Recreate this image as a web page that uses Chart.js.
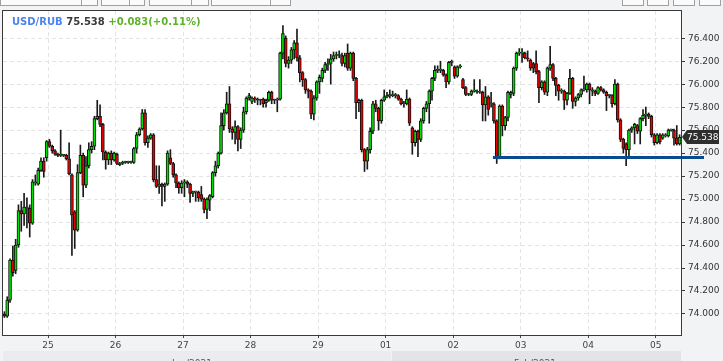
<!DOCTYPE html>
<html>
<head>
<meta charset="utf-8">
<script src="https://cdn.jsdelivr.net/npm/chart.js@4.4.1/dist/chart.umd.min.js"></script>
<style>
  html, body { margin: 0; padding: 0; background: #f2f3f5; }
  #wrap { width: 723px; height: 361px; }
</style>
</head>
<body>
<div id="wrap"><canvas id="chart" width="723" height="361"></canvas></div>
<script>
// Hourly USD/RUB candles, 24 Jan 08:00 -> 05 Feb 08:00 (weekend skipped)
const days = ['24', '25', '26', '27', '28', '29', '01', '02', '03', '04', '05'];
const firstHour = 8;

const opens = [
  74.00, 73.98, 74.12, 74.47, 74.38, 74.60, 74.90, 74.87, 74.93, 74.92, 74.79, 75.14,
  75.13, 75.25, 75.33, 75.36, 75.50, 75.46, 75.42, 75.39, 75.38, 75.38, 75.38, 75.35,
  75.21, 74.89, 74.73, 75.23, 75.38, 75.12, 75.29, 75.43, 75.46, 75.70, 75.72, 75.65,
  75.41, 75.34, 75.40, 75.34, 75.39, 75.30, 75.31, 75.32, 75.32, 75.32, 75.32, 75.44,
  75.56, 75.61, 75.75, 75.49, 75.53, 75.56, 75.17, 75.11, 75.13, 75.11, 75.13, 75.36,
  75.31, 75.21, 75.14, 75.10, 75.14, 75.15, 75.13, 75.05, 75.06, 75.06, 75.04, 75.00,
  74.91, 74.99, 75.02, 75.23, 75.29, 75.40, 75.64, 75.75, 75.83, 75.61, 75.58, 75.63,
  75.52, 75.60, 75.76, 75.88, 75.85, 75.88, 75.87, 75.86, 75.87, 75.84, 75.86, 75.93,
  75.86, 75.86, 75.87, 76.27, 76.40, 76.18, 76.21, 76.30, 76.36, 76.23, 76.10, 76.04,
  75.95, 75.94, 75.74, 75.88, 76.02, 76.05, 76.12, 76.17, 76.18, 76.22, 76.25, 76.25,
  76.25, 76.18, 76.27, 76.14, 76.27, 76.05, 75.84, 75.86, 75.43, 75.33, 75.43, 75.59,
  75.83, 75.79, 75.68, 75.86, 75.89, 75.90, 75.90, 75.90, 75.90, 75.87, 75.83, 75.83,
  75.87, 75.62, 75.49, 75.59, 75.52, 75.68, 75.79, 75.83, 75.94, 76.05, 76.12, 76.12,
  76.12, 76.08, 76.02, 76.19, 76.15, 76.07, 76.15, 76.04, 75.97, 75.91, 75.91, 75.94,
  75.94, 75.93, 75.93, 75.82, 75.89, 75.83, 75.83, 75.68, 75.37, 75.81, 75.64, 75.71,
  75.91, 75.92, 76.14, 76.27, 76.27, 76.27, 76.23, 76.21, 76.18, 76.18, 76.11, 75.97,
  76.02, 75.93, 76.14, 76.17, 76.05, 75.99, 75.94, 75.94, 75.86, 75.92, 76.05, 75.85,
  75.88, 75.91, 75.95, 75.95, 76.00, 75.94, 75.94, 75.92, 75.97, 75.95, 75.93, 75.90,
  75.90, 75.83, 76.00, 75.69, 75.52, 75.48, 75.43, 75.60, 75.62, 75.64, 75.59, 75.70,
  75.73, 75.74, 75.72, 75.56, 75.49, 75.56, 75.53, 75.55, 75.55, 75.60, 75.60, 75.53,
  75.48
];
const highs = [
  74.02, 74.15, 74.48, 74.59, 74.65, 74.95, 74.98, 75.05, 75.01, 74.95, 75.17, 75.21,
  75.27, 75.36, 75.36, 75.51, 75.52, 75.47, 75.43, 75.40, 75.60, 75.39, 75.39, 75.49,
  75.22, 74.90, 75.30, 75.47, 75.40, 75.37, 75.49, 75.50, 75.72, 75.86, 75.82, 75.66,
  75.42, 75.41, 75.42, 75.41, 75.40, 75.32, 75.33, 75.33, 75.33, 75.33, 75.45, 75.58,
  75.62, 75.78, 75.78, 75.55, 75.57, 75.57, 75.29, 75.29, 75.14, 75.14, 75.42, 75.43,
  75.32, 75.22, 75.15, 75.16, 75.17, 75.16, 75.14, 75.07, 75.07, 75.07, 75.11, 75.01,
  75.01, 75.04, 75.24, 75.33, 75.41, 75.75, 75.78, 75.93, 75.98, 75.63, 75.68, 75.64,
  75.62, 75.80, 75.89, 75.92, 75.89, 75.89, 75.88, 75.87, 75.88, 75.87, 75.94, 75.94,
  75.87, 75.88, 76.28, 76.51, 76.42, 76.24, 76.32, 76.38, 76.48, 76.25, 76.11, 76.05,
  75.96, 75.95, 75.90, 76.03, 76.08, 76.14, 76.19, 76.22, 76.26, 76.28, 76.28, 76.29,
  76.27, 76.27, 76.35, 76.28, 76.28, 76.06, 75.87, 75.87, 75.44, 75.45, 75.62, 75.85,
  75.86, 75.80, 75.87, 75.95, 75.93, 75.95, 75.94, 75.92, 75.91, 75.88, 75.85, 75.95,
  75.88, 75.63, 75.60, 75.60, 75.70, 75.80, 75.85, 75.95, 76.06, 76.16, 76.16, 76.20,
  76.13, 76.09, 76.20, 76.21, 76.16, 76.16, 76.17, 76.05, 75.98, 75.92, 75.95, 76.04,
  75.95, 76.04, 75.94, 75.98, 75.90, 75.93, 75.84, 75.69, 75.82, 75.82, 75.72, 75.94,
  75.94, 76.15, 76.28, 76.31, 76.31, 76.28, 76.29, 76.22, 76.19, 76.29, 76.12, 76.03,
  76.03, 76.15, 76.33, 76.18, 76.06, 76.00, 75.96, 75.95, 75.93, 76.13, 76.06, 75.89,
  75.92, 75.96, 76.07, 76.01, 76.01, 75.97, 75.95, 75.98, 75.98, 75.96, 75.94, 75.91,
  75.91, 76.04, 76.01, 75.70, 75.53, 75.49, 75.61, 75.63, 75.66, 75.65, 75.71, 75.78,
  75.80, 75.75, 75.73, 75.57, 75.57, 75.57, 75.57, 75.57, 75.61, 75.61, 75.61, 75.64,
  75.56
];
const lows = [
  73.97, 73.97, 74.10, 74.33, 74.35, 74.58, 74.72, 74.77, 74.75, 74.67, 74.78, 75.12,
  75.12, 75.24, 75.19, 75.33, 75.45, 75.40, 75.38, 75.37, 75.37, 75.37, 75.34, 75.21,
  74.51, 74.57, 74.72, 75.22, 75.02, 75.10, 75.27, 75.40, 75.43, 75.69, 75.63, 75.34,
  75.26, 75.30, 75.30, 75.33, 75.30, 75.29, 75.30, 75.31, 75.31, 75.31, 75.31, 75.40,
  75.55, 75.60, 75.47, 75.45, 75.52, 75.15, 75.10, 75.05, 74.94, 74.98, 75.12, 75.30,
  75.19, 75.10, 75.05, 75.05, 75.02, 75.10, 74.97, 75.02, 74.98, 74.98, 74.98, 74.88,
  74.83, 74.90, 75.01, 75.20, 75.27, 75.39, 75.60, 75.74, 75.58, 75.52, 75.48, 75.42,
  75.44, 75.58, 75.74, 75.86, 75.83, 75.84, 75.82, 75.82, 75.80, 75.80, 75.85, 75.83,
  75.83, 75.76, 75.86, 76.22, 76.15, 76.14, 76.18, 76.22, 76.20, 76.02, 75.98, 75.92,
  75.88, 75.70, 75.69, 75.86, 75.92, 76.02, 76.10, 76.12, 76.00, 76.20, 76.22, 76.23,
  76.16, 76.15, 76.12, 76.12, 76.03, 75.70, 75.76, 75.41, 75.24, 75.26, 75.40, 75.57,
  75.76, 75.60, 75.66, 75.85, 75.88, 75.88, 75.89, 75.88, 75.86, 75.82, 75.80, 75.82,
  75.64, 75.39, 75.46, 75.37, 75.50, 75.66, 75.76, 75.66, 75.86, 76.03, 76.10, 76.10,
  76.07, 75.97, 76.00, 76.16, 76.05, 76.06, 76.14, 75.96, 75.90, 75.90, 75.90, 75.93,
  75.92, 75.92, 75.68, 75.68, 75.73, 75.80, 75.66, 75.31, 75.35, 75.55, 75.60, 75.68,
  75.88, 75.90, 76.12, 76.25, 76.19, 76.22, 76.20, 76.12, 76.10, 76.09, 75.84, 75.95,
  75.91, 75.90, 76.12, 76.03, 75.90, 75.86, 75.92, 75.78, 75.82, 75.91, 75.79, 75.81,
  75.86, 75.89, 75.94, 75.93, 75.83, 75.90, 75.90, 75.91, 75.94, 75.92, 75.77, 75.88,
  75.80, 75.82, 75.67, 75.50, 75.40, 75.29, 75.37, 75.58, 75.48, 75.57, 75.48, 75.68,
  75.64, 75.70, 75.54, 75.47, 75.48, 75.48, 75.52, 75.54, 75.54, 75.59, 75.47, 75.47,
  75.47
];
const closes = [
  73.98, 74.12, 74.47, 74.36, 74.60, 74.90, 74.87, 74.93, 74.92, 74.79, 75.15, 75.15,
  75.25, 75.33, 75.24, 75.50, 75.46, 75.42, 75.39, 75.38, 75.38, 75.38, 75.35, 75.22,
  74.86, 74.73, 75.23, 75.38, 75.12, 75.29, 75.43, 75.46, 75.70, 75.72, 75.65, 75.41,
  75.34, 75.40, 75.34, 75.40, 75.31, 75.31, 75.32, 75.32, 75.32, 75.32, 75.44, 75.56,
  75.61, 75.75, 75.49, 75.53, 75.56, 75.17, 75.11, 75.13, 75.11, 75.13, 75.40, 75.31,
  75.21, 75.14, 75.10, 75.14, 75.15, 75.13, 75.05, 75.06, 75.06, 75.01, 75.00, 74.91,
  75.00, 75.03, 75.23, 75.29, 75.40, 75.64, 75.75, 75.83, 75.61, 75.58, 75.63, 75.52,
  75.60, 75.76, 75.88, 75.90, 75.88, 75.87, 75.86, 75.86, 75.83, 75.86, 75.93, 75.86,
  75.86, 75.87, 76.27, 76.44, 76.18, 76.21, 76.30, 76.36, 76.23, 76.10, 76.04, 75.95,
  75.94, 75.74, 75.88, 76.02, 76.06, 76.12, 76.17, 76.18, 76.22, 76.25, 76.25, 76.25,
  76.18, 76.25, 76.14, 76.27, 76.05, 75.84, 75.86, 75.43, 75.33, 75.43, 75.59, 75.83,
  75.79, 75.68, 75.86, 75.89, 75.90, 75.90, 75.90, 75.90, 75.87, 75.83, 75.83, 75.87,
  75.66, 75.49, 75.59, 75.52, 75.68, 75.79, 75.83, 75.94, 76.05, 76.12, 76.12, 76.12,
  76.08, 76.02, 76.19, 76.19, 76.07, 76.15, 76.16, 75.97, 75.91, 75.91, 75.94, 75.94,
  75.93, 75.93, 75.82, 75.89, 75.78, 75.83, 75.68, 75.37, 75.81, 75.64, 75.71, 75.93,
  75.93, 76.14, 76.27, 76.27, 76.27, 76.23, 76.22, 76.14, 76.14, 76.11, 75.97, 76.02,
  75.93, 76.14, 76.17, 76.05, 75.99, 75.94, 75.94, 75.86, 75.92, 76.05, 75.85, 75.88,
  75.91, 75.95, 75.95, 76.00, 75.95, 75.95, 75.92, 75.97, 75.95, 75.93, 75.90, 75.90,
  75.83, 76.00, 75.69, 75.52, 75.44, 75.43, 75.60, 75.62, 75.65, 75.59, 75.70, 75.73,
  75.74, 75.72, 75.56, 75.49, 75.56, 75.50, 75.56, 75.56, 75.60, 75.60, 75.53, 75.48,
  75.538
];

const yTicks = [74.0, 74.2, 74.4, 74.6, 74.8, 75.0, 75.2, 75.4, 75.6, 75.8, 76.0, 76.2, 76.4];
const yMin = 73.817;
const yMax = 76.637;

const symbol = 'USD/RUB';
const change = '+0.083(+0.11%)';
const supportLevel = 75.365;
const supportFrom = 174; // candle index where the drawn level starts
const months = [['Jan/2021', 192], ['Feb/2021', 535]];

const FONT = 'DejaVu Sans, Verdana, sans-serif';
const GREEN = '#00e000';
const RED = '#e80000';

// category labels "DD HH"
const labels = [];
let d = 0, h = firstHour;
for (let i = 0; i < opens.length; i++) {
    labels.push(days[d] + ' ' + String(h).padStart(2, '0'));
    h++;
    if (h === 24) { h = 0; d++; }
}
const isDayStart = i => labels[i] !== undefined && labels[i].endsWith(' 00');

const wickData = labels.map((_, i) => [
    Math.min(lows[i], opens[i], closes[i]),
    Math.max(highs[i], opens[i], closes[i])
]);
const bodyData = labels.map((_, i) => [Math.min(opens[i], closes[i]), Math.max(opens[i], closes[i])]);
const bodyColors = labels.map((_, i) => closes[i] >= opens[i] ? GREEN : RED);

const decor = {
    id: 'decor',
    beforeDraw(chart) {
        const { ctx, chartArea: a, width, height } = chart;
        ctx.save();
        ctx.fillStyle = '#f2f3f5';
        ctx.fillRect(0, 0, width, height);
        ctx.fillStyle = '#ffffff';
        ctx.fillRect(a.left, a.top, a.right - a.left, a.bottom - a.top);

        // toolbar buttons cut off by the top edge
        ctx.strokeStyle = '#a0a0a0';
        ctx.lineWidth = 1;
        [[0, 97, 81], [101, 144, 129], [149, 208, 191], [211, 290, 270],
         [622, 643], [647, 668], [673, 694], [699, 720]].forEach(([x0, x1, split]) => {
            ctx.fillStyle = '#fbfbfb';
            ctx.fillRect(x0, -3, x1 - x0, 8);
            ctx.strokeRect(x0 + 0.5, -3, x1 - x0, 8.5);
            if (split) {
                ctx.beginPath();
                ctx.moveTo(split + 0.5, 0);
                ctx.lineTo(split + 0.5, 5);
                ctx.stroke();
            }
        });

        // month band at the bottom
        ctx.fillStyle = '#ebecee';
        ctx.fillRect(a.left, 351, 391 - a.left, height - 351);
        ctx.fillStyle = '#e3e4e6';
        ctx.fillRect(392, 351, a.right - 392, height - 351);
        ctx.fillStyle = '#555';
        ctx.font = '9px ' + FONT;
        ctx.textAlign = 'center';
        ctx.textBaseline = 'alphabetic';
        months.forEach(([t, x]) => ctx.fillText(t, x, 366));
        ctx.restore();
    },
    afterDatasetsDraw(chart) {
        const { ctx, chartArea: a, scales } = chart;
        const y = Math.round(scales.y.getPixelForValue(supportLevel));
        const x0 = scales.x.getPixelForValue(supportFrom) - 1;
        ctx.save();
        ctx.strokeStyle = '#0b4a8c';
        ctx.lineWidth = 3;
        ctx.beginPath();
        ctx.moveTo(x0, y + 0.5);
        ctx.lineTo(a.right + 23, y + 0.5);
        ctx.stroke();
        ctx.restore();
    },
    afterDraw(chart) {
        const { ctx, chartArea: a, scales } = chart;
        ctx.save();
        // plot frame
        ctx.strokeStyle = '#3a3a3a';
        ctx.lineWidth = 1;
        ctx.strokeRect(a.left - 0.5, a.top - 0.5, a.right - a.left + 1, a.bottom - a.top + 1);

        // last price tag
        const last = closes[closes.length - 1];
        const ty = Math.round(scales.y.getPixelForValue(last));
        ctx.fillStyle = '#2e2e2e';
        ctx.beginPath();
        ctx.moveTo(a.right + 1, ty);
        ctx.lineTo(a.right + 6, ty - 7);
        ctx.lineTo(a.right + 38, ty - 7);
        ctx.lineTo(a.right + 38, ty + 7);
        ctx.lineTo(a.right + 6, ty + 7);
        ctx.closePath();
        ctx.fill();
        ctx.fillStyle = '#ffffff';
        ctx.font = '9px ' + FONT;
        ctx.textAlign = 'left';
        ctx.textBaseline = 'middle';
        ctx.fillText(last.toFixed(3), a.right + 6, ty + 0.5);

        // title line
        ctx.font = 'bold 10px ' + FONT;
        ctx.textBaseline = 'alphabetic';
        let x = 12;
        const parts = [[symbol, '#4a84ee'], [last.toFixed(3), '#3a3a3a'], [change, '#5fb32a']];
        parts.forEach(([t, c]) => {
            ctx.fillStyle = c;
            ctx.fillText(t, x, 25);
            x += ctx.measureText(t + ' ').width;
        });
        ctx.restore();
    }
};

new Chart(document.getElementById('chart'), {
    type: 'bar',
    data: {
        labels: labels,
        datasets: [
            {
                label: 'body',
                data: bodyData,
                backgroundColor: bodyColors,
                borderColor: '#111111',
                borderWidth: 1,
                borderSkipped: false,
                barThickness: 3,
                minBarLength: 1,
                grouped: false,
                order: 0
            },
            {
                label: 'wick',
                data: wickData,
                backgroundColor: '#1a1a1a',
                borderWidth: 0,
                barThickness: 1,
                grouped: false,
                order: 1
            }
        ]
    },
    plugins: [decor],
    options: {
        responsive: false,
        animation: false,
        devicePixelRatio: 1,
        layout: { padding: { left: 3, top: 11, right: 0, bottom: 0 } },
        plugins: {
            legend: { display: false },
            tooltip: { enabled: false },
            title: { display: false }
        },
        scales: {
            x: {
                type: 'category',
                offset: true,
                afterFit: s => { s.height = 26; },
                grid: {
                    offset: true,
                    color: c => isDayStart(c.index) ? '#e4e4e4' : 'rgba(0,0,0,0)',
                    tickColor: c => isDayStart(c.index) ? '#444' : 'rgba(0,0,0,0)',
                    tickLength: 3,
                    lineWidth: 1
                },
                border: { display: true, color: '#3a3a3a', dash: [4, 3] },
                ticks: {
                    autoSkip: false,
                    maxRotation: 0,
                    minRotation: 0,
                    padding: 2,
                    labelOffset: -1.4,
                    color: '#444',
                    font: { family: FONT, size: 9 },
                    callback: function (value, index) {
                        return isDayStart(index) ? labels[index].slice(0, 2) : '';
                    }
                }
            },
            y: {
                position: 'right',
                min: yMin,
                max: yMax,
                beginAtZero: false,
                afterBuildTicks: s => { s.ticks = yTicks.map(v => ({ value: v })); },
                afterFit: s => { s.width = 42; },
                grid: { color: '#e4e4e4', tickColor: '#3a3a3a', tickLength: 4, lineWidth: 1 },
                border: { display: true, color: '#3a3a3a', dash: [4, 3] },
                ticks: {
                    padding: 3,
                    color: '#333',
                    font: { family: FONT, size: 9 },
                    callback: v => v.toFixed(3)
                }
            }
        }
    }
});
</script>
</body>
</html>
